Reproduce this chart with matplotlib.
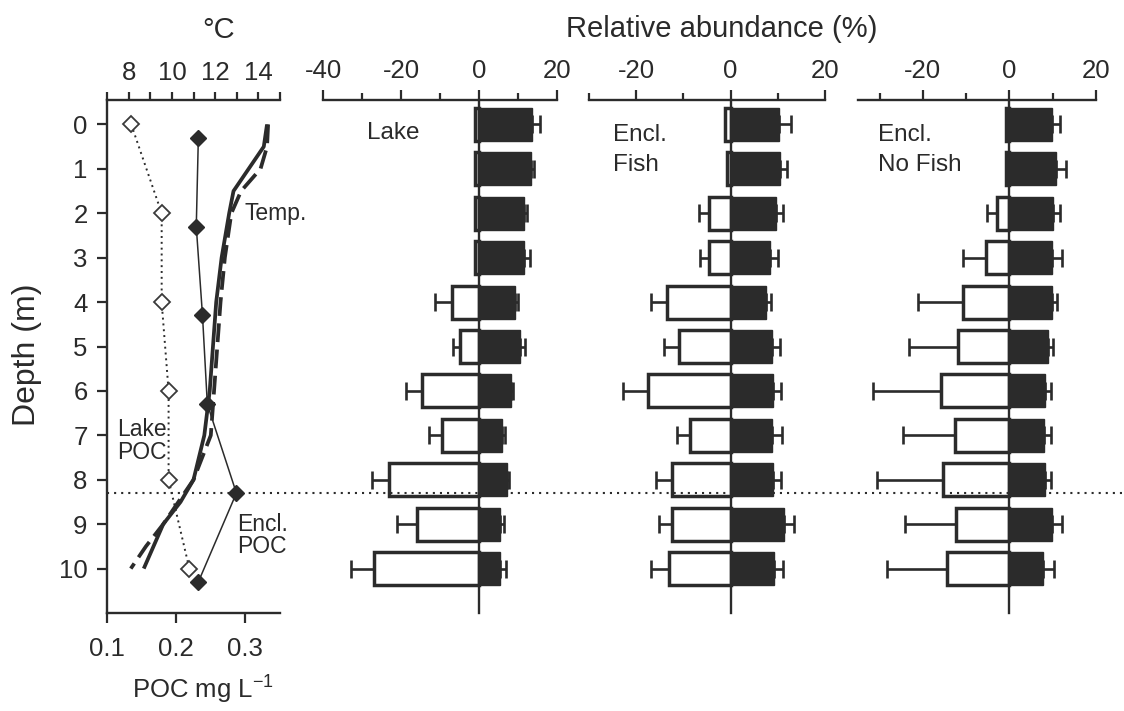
import numpy as np
import matplotlib
matplotlib.use("Agg")
import matplotlib.pyplot as plt
from matplotlib.lines import Line2D
from matplotlib.transforms import blended_transform_factory

plt.rcParams['font.family'] = ['Liberation Sans', 'DejaVu Sans']
plt.rcParams['mathtext.fontset'] = 'custom'
plt.rcParams['mathtext.rm'] = 'Liberation Sans'
plt.rcParams['mathtext.default'] = 'regular'

INK = '#2b2b2b'
TXT = '#2a2a2a'

# ---------------- data ----------------
depth = np.arange(11)

# temperature profiles (depth m, deg C)
temp_lake_depth = [0, 0.5, 1.5, 2, 3, 4, 5, 6, 7, 8, 8.5, 9, 10]
temp_lake = [14.4, 14.25, 12.85, 12.65, 12.3, 12.05, 11.9, 11.75, 11.5, 11.0, 10.4, 9.6, 8.7]
temp_encl_depth = [0, 0.5, 1, 1.5, 2, 3, 4, 5, 6, 7, 8, 9, 9.5, 10]
temp_encl = [14.45, 14.4, 14.1, 13.2, 12.75, 12.45, 12.25, 12.1, 11.95, 11.8, 11.0, 9.6, 8.8, 8.1]

# particulate organic carbon (mg/L)
lake_poc_depth = [0, 2, 4, 6, 8, 10]
lake_poc = [0.135, 0.179, 0.179, 0.189, 0.189, 0.219]
encl_poc_depth = [0.3, 2.3, 4.3, 6.3, 8.3, 10.3]
encl_poc = [0.232, 0.229, 0.238, 0.245, 0.287, 0.232]

# depth of the enclosure bottom
encl_bottom_depth = 8.3

# relative abundance (%), positive and negative parts with one-sided errors
lake_pos = np.array([13.6, 13.3, 11.6, 11.6, 9.2, 10.5, 8.2, 6.0, 7.3, 5.4, 5.4])
lake_pos_err = np.array([2.1, 0.7, 0.6, 1.5, 0.7, 1.4, 0.4, 0.7, 0.3, 0.9, 1.5])
lake_neg = np.array([-0.9, -0.9, -1.0, -1.0, -7.0, -4.9, -14.6, -9.6, -23.0, -15.9, -26.8])
lake_neg_err = np.array([0, 0, 0, 0, 4.2, 1.7, 4.2, 3.3, 4.4, 5.2, 6.1])

fish_pos = np.array([10.2, 10.4, 9.6, 8.3, 7.6, 8.7, 9.0, 8.8, 9.0, 11.3, 9.3])
fish_pos_err = np.array([2.7, 1.6, 1.6, 1.8, 1.0, 1.7, 1.6, 2.0, 1.6, 2.1, 1.9])
fish_neg = np.array([-1.1, -0.7, -4.5, -4.5, -13.4, -10.9, -17.4, -8.7, -12.4, -12.4, -13.1])
fish_neg_err = np.array([0, 0, 2.3, 2.0, 3.5, 3.2, 5.4, 2.6, 3.4, 2.8, 3.8])

nofish_pos = np.array([9.9, 10.8, 10.1, 9.9, 9.9, 8.9, 8.3, 7.9, 8.3, 9.9, 7.7])
nofish_pos_err = np.array([1.8, 2.2, 1.6, 2.3, 1.1, 1.1, 1.4, 1.8, 1.4, 2.3, 2.6])
nofish_neg = np.array([-0.9, -0.9, -2.9, -5.4, -10.7, -11.9, -15.9, -12.5, -15.4, -12.3, -14.4])
nofish_neg_err = np.array([0, 0, 2.4, 5.3, 10.5, 11.4, 15.6, 12.2, 15.3, 11.8, 13.9])

# ---------------- figure ----------------
W, H = 1124, 711
fig = plt.figure(figsize=(W / 100, H / 100), dpi=100)

TOP, BOT = 100, 613


def px_axes(x0, x1):
    return fig.add_axes([x0 / W, 1 - BOT / H, (x1 - x0) / W, (BOT - TOP) / H])


TICK_FS = 18.5
YLIM = (11.0, -0.55)

# ---- profile panel ----
ax0 = px_axes(107, 280)
axT = ax0.twiny()
ax0.set_zorder(axT.get_zorder() + 1)
ax0.patch.set_visible(False)

ax0.set_xlim(0.1, 0.35)
ax0.set_ylim(*YLIM)
for s in ('top', 'right'):
    ax0.spines[s].set_visible(False)
for s in ('left', 'bottom'):
    ax0.spines[s].set_linewidth(1.7)
    ax0.spines[s].set_color(INK)
ax0.set_xticks([0.1, 0.2, 0.3])
ax0.set_xticklabels(['0.1', '0.2', '0.3'])
ax0.set_yticks(depth)
ax0.tick_params(direction='out', length=7, width=1.6, color=INK,
                labelsize=TICK_FS, labelcolor=TXT)
ax0.tick_params(axis='x', pad=10)
ax0.tick_params(axis='y', pad=7)

axT.set_xlim(7, 15)
axT.set_ylim(*YLIM)
for s in ('left', 'right', 'bottom'):
    axT.spines[s].set_visible(False)
axT.spines['top'].set_linewidth(1.7)
axT.spines['top'].set_color(INK)
axT.set_xticks([8, 10, 12, 14])
axT.set_xticks([7, 9, 11, 13, 15], minor=True)
axT.tick_params(axis='x', which='both', direction='out', length=6, width=1.6,
                color=INK, labelsize=TICK_FS, labelcolor=TXT, pad=5)

axT.plot(temp_lake, temp_lake_depth, '-', lw=2.7, color=INK, solid_capstyle='butt')
axT.plot(temp_encl, temp_encl_depth, linestyle=(0, (5, 2)), lw=2.7, color=INK,
         dash_capstyle='butt')

ax0.plot(lake_poc, lake_poc_depth, linestyle=(0, (1, 2)), lw=1.4, color=INK,
         marker='D', ms=7.8, mfc='white', mec='#3a3a3a', mew=1.3)
ax0.plot(encl_poc, encl_poc_depth, '-', lw=1.1, color=INK,
         marker='D', ms=8.5, mfc=INK, mec=INK)

ax0.text(0.299, 2.0, 'Temp.', fontsize=16.5, color=TXT, ha='left', va='center',
         clip_on=False)
ax0.text(0.114, 7.12, 'Lake\nPOC', fontsize=16.5, color=TXT, ha='left',
         va='center', linespacing=1.0)
ax0.text(0.2885, 9.25, 'Encl.\nPOC', fontsize=16.5, color=TXT, ha='left',
         va='center', linespacing=0.95)


# ---- abundance panels ----
def bar_panel(x0, x1, xlim, majors, minors, pos, pos_err, neg, neg_err,
              label, label_x, label_y):
    ax = px_axes(x0, x1)
    ax.set_xlim(*xlim)
    ax.set_ylim(*YLIM)
    ax.patch.set_visible(False)

    ax.barh(depth, pos, height=0.74, color=INK, edgecolor=INK, lw=1.0, zorder=2)
    ax.barh(depth, neg, height=0.74, color='white', edgecolor=INK, lw=2.5, zorder=2)

    m = pos_err > 0
    ax.errorbar(pos[m], depth[m], xerr=[np.zeros(m.sum()), pos_err[m]],
                fmt='none', ecolor=INK, elinewidth=1.9, capsize=6.5,
                capthick=1.9, zorder=1)
    m = neg_err > 0
    ax.errorbar(neg[m], depth[m], xerr=[neg_err[m], np.zeros(m.sum())],
                fmt='none', ecolor=INK, elinewidth=1.9, capsize=6.5,
                capthick=1.9, zorder=1)

    for s in ('bottom', 'right'):
        ax.spines[s].set_visible(False)
    ax.spines['left'].set_position(('data', 0))
    for s in ('left', 'top'):
        ax.spines[s].set_linewidth(1.7)
        ax.spines[s].set_color(INK)
    ax.tick_params(axis='y', left=False, labelleft=False)
    ax.xaxis.tick_top()
    ax.set_xticks(majors)
    ax.set_xticklabels([f'{v:d}' for v in majors])
    ax.set_xticks(minors, minor=True)
    ax.tick_params(axis='x', which='major', direction='out', length=7, width=1.6,
                   color=INK, labelsize=TICK_FS, labelcolor=TXT, pad=5)
    ax.tick_params(axis='x', which='minor', direction='out', length=5, width=1.6,
                   color=INK)
    ax.text(label_x, label_y, label, fontsize=17.5, color=TXT, ha='left',
            va='center', linespacing=1.45)
    return ax


bar_panel(323, 557, (-40, 20), [-40, -20, 0, 20], [-30, -10, 10],
          lake_pos, lake_pos_err, lake_neg, lake_neg_err, 'Lake', -28.7, 0.2)
bar_panel(589, 825, (-30, 20), [-20, 0, 20], [-30, -10, 10],
          fish_pos, fish_pos_err, fish_neg, fish_neg_err, 'Encl.\nFish', -24.9, 0.58)
bar_panel(858, 1096, (-35, 20), [-20, 0, 20], [-30, -10, 10],
          nofish_pos, nofish_pos_err, nofish_neg, nofish_neg_err,
          'Encl.\nNo Fish', -30.4, 0.58)

# enclosure bottom marker across all panels
fig.add_artist(Line2D([107 / W, 1122 / W], [encl_bottom_depth] * 2,
                      transform=blended_transform_factory(fig.transFigure, ax0.transData),
                      linestyle=(0, (1, 2.4)), lw=1.5, color=INK, zorder=5))

# axis titles
fig.text(219 / W, 1 - 30 / H, '°C', fontsize=21, color=TXT, ha='center', va='center')
fig.text(722 / W, 1 - 29 / H, 'Relative abundance (%)', fontsize=21, color=TXT,
         ha='center', va='center')
fig.text(203 / W, 1 - 690 / H, 'POC mg L$^{-1}$', fontsize=18.5, color=TXT,
         ha='center', va='center')
fig.text(27 / W, 1 - 355 / H, 'Depth (m)', fontsize=23, color=TXT, ha='center',
         va='center', rotation=90)

fig.savefig('out.png', dpi=100)
